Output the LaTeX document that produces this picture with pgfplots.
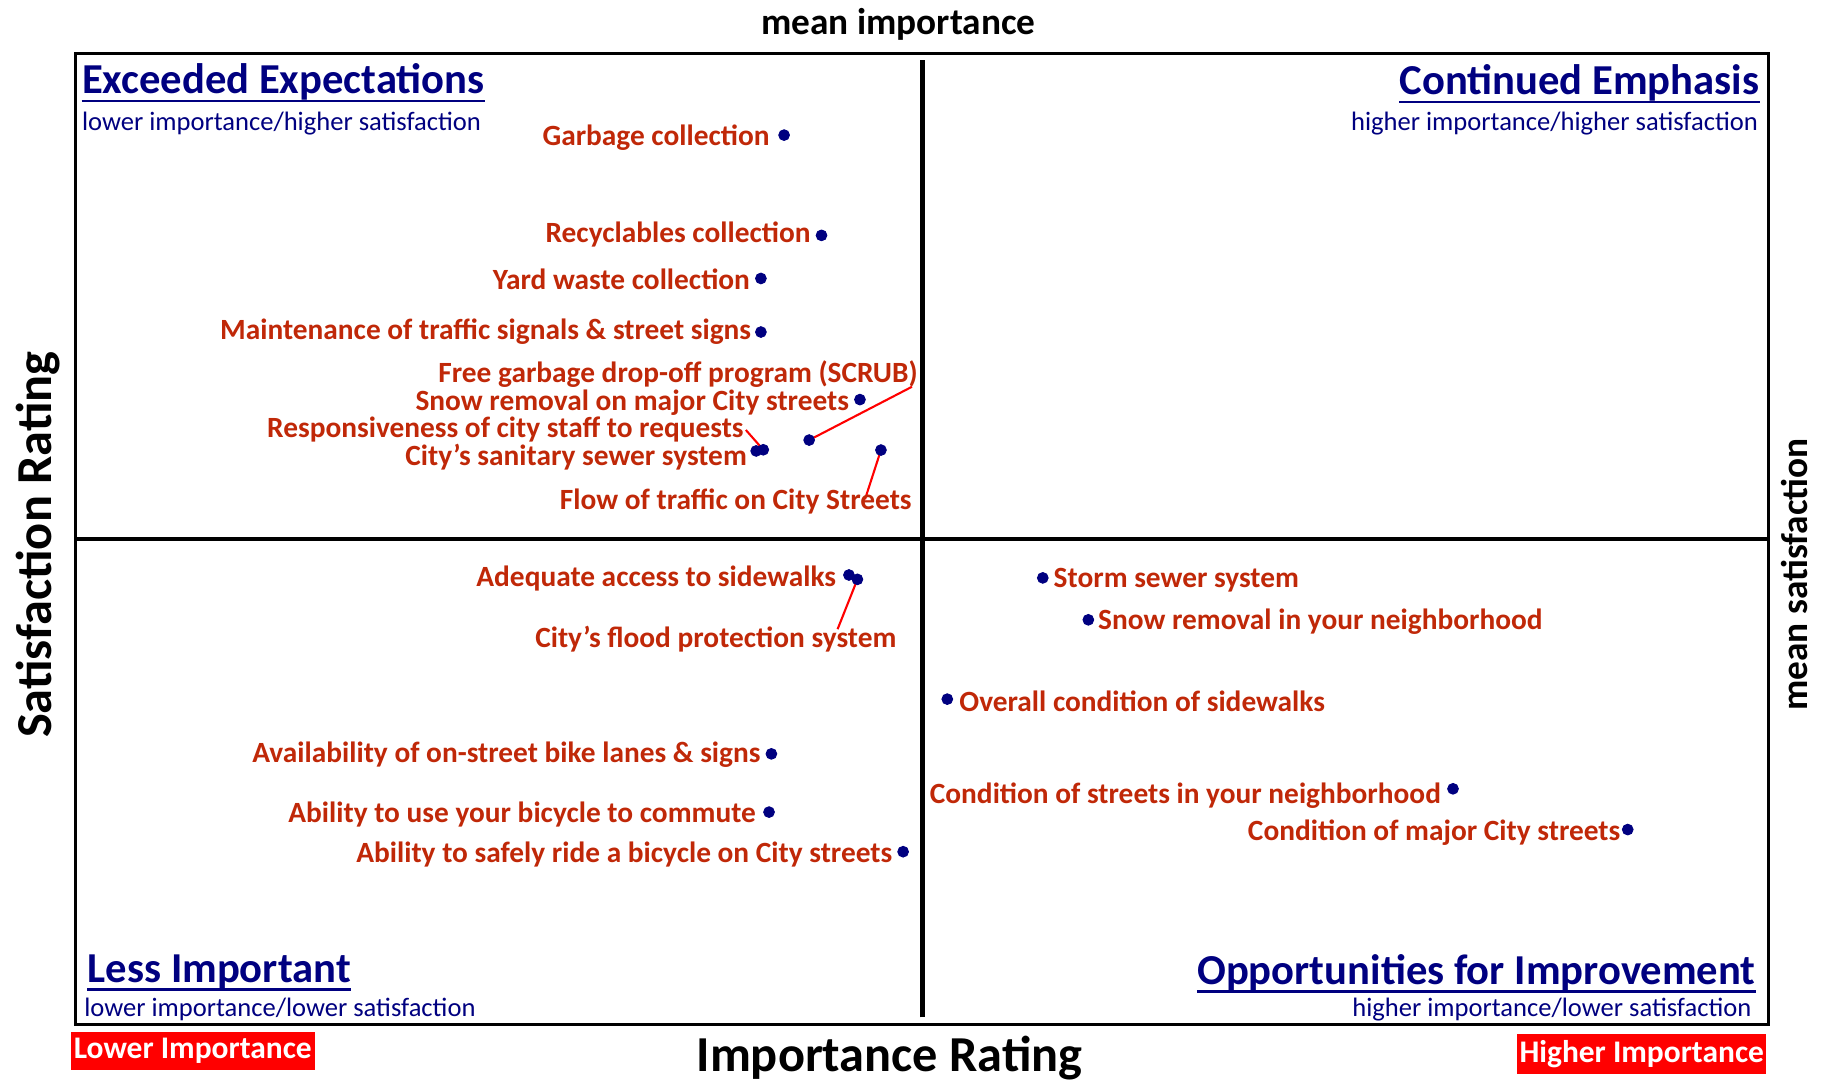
\documentclass[border=0pt]{standalone}
\usepackage{pgfplots}
\pgfplotsset{compat=1.18}
\usepackage{fontspec}
\setmainfont{Carlito}

\definecolor{navyq}{RGB}{0,0,128}
\definecolor{lblred}{RGB}{192,40,8}
\definecolor{boxred}{RGB}{255,0,0}

\begin{document}
\begin{tikzpicture}
\begin{axis}[
    at={(0,0)}, anchor=south west,
    width=726.5pt, height=416.5pt, scale only axis,
    xmin=0, xmax=100, ymin=0, ymax=100,
    xtick=\empty, ytick=\empty,
    axis line style={line width=1.4pt},
    clip=false,
]
% mean importance / mean satisfaction
\addplot[black, line width=2pt] coordinates {(0,50) (100,50)};
\addplot[black, line width=2pt] coordinates {(50,0.7) (50,99.3)};

% leader lines
\draw[red, line width=0.9pt] (axis cs:43.32,60.18) -- (axis cs:49.39,65.67);
\draw[red, line width=0.9pt] (axis cs:40.61,59.18) -- (axis cs:39.58,61.22);
\draw[red, line width=0.9pt] (axis cs:47.56,59.15) -- (axis cs:46.62,54.08);
\draw[red, line width=0.9pt] (axis cs:46.17,45.83) -- (axis cs:45.00,40.70);

\addplot[only marks, mark=*, mark size=2.3pt, color=navyq,
    point meta=explicit symbolic,
    visualization depends on={value \thisrow{dx}\as\dx},
    visualization depends on={value \thisrow{dy}\as\dy},
    visualization depends on={value \thisrow{anc}\as\anc},
    nodes near coords,
    every node near coord/.append style={anchor=\anc, xshift=\dx pt, yshift=\dy pt-1pt,
        inner sep=0pt, text=lblred, font=\bfseries\fontsize{12.6}{15}\selectfont},
] table[col sep=comma, meta=label] {
x,y,dx,dy,anc,label
41.84,91.60,-6,0,east,Garbage collection
44.05,81.27,-4.5,1.5,east,Recyclables collection
40.47,76.83,-4.5,0.5,east,Yard waste collection
40.47,71.31,-4,1,east,Maintenance of traffic signals \& street signs
46.32,64.35,-4.5,-0.5,east,Snow removal on major City streets
43.32,60.18,46.8,29.35,east,Free garbage drop-off program (SCRUB)
40.61,59.18,-8.25,9.9,east,Responsiveness of city staff to requests
40.19,59.06,-3.8,-1.75,east,City's sanitary sewer system
47.56,59.15,13.35,-21.1,east,Flow of traffic on City Streets
45.67,46.28,-5.3,-0.7,east,Adequate access to sidewalks
46.17,45.83,16.9,-24.6,east,City's flood protection system
41.09,27.85,-4.5,0.5,east,Availability of on-street bike lanes \& signs
40.95,21.85,-5.5,0,east,Ability to use your bicycle to commute
48.87,17.77,-4.5,0,east,Ability to safely ride a bicycle on City streets
57.12,45.98,4.5,0,west,Storm sewer system
59.81,41.66,4,0,west,Snow removal in your neighborhood
51.48,33.49,5,0,west,Overall condition of sidewalks
81.35,24.25,-5,-2,east,Condition of streets in your neighborhood
91.67,20.05,-3,-0.5,east,Condition of major City streets
};
\end{axis}

% quadrant titles
\tikzset{qt/.style={inner sep=0pt, text=navyq, font=\bfseries\fontsize{18.3}{22}\selectfont},
         qs/.style={inner sep=0pt, text=navyq, font=\fontsize{11.4}{14}\selectfont}}
\node[qt, anchor=base west] (q1) at (2.5pt,399.2pt) {Exceeded Expectations};
\node[qs, anchor=base west] at (2.5pt,383.6pt) {lower importance/higher satisfaction};
\node[qt, anchor=base east] (q2) at (722.6pt,398.8pt) {Continued Emphasis};
\node[qs, anchor=base east] at (722pt,383.3pt) {higher importance/higher satisfaction};
\node[qt, anchor=base west] (q3) at (5pt,18pt) {Less Important};
\node[qs, anchor=base west] at (3.5pt,3.1pt) {lower importance/lower satisfaction};
\node[qt, anchor=base east] (q4) at (721.1pt,17.2pt) {Opportunities for Improvement};
\node[qs, anchor=base east] at (719.2pt,3.5pt) {higher importance/lower satisfaction};
\foreach \q in {q1,q2,q3,q4}
  \draw[navyq, line width=1.1pt] ([yshift=-3.1pt]\q.base west) -- ([yshift=-3.1pt]\q.base east);

% axis titles
\node[font=\bfseries\fontsize{16}{19}\selectfont, anchor=base] at (353pt,424.6pt) {mean importance};
\node[font=\bfseries\fontsize{21.6}{26}\selectfont, anchor=base] at (349.25pt,-20.2pt) {Importance Rating};
\node[font=\bfseries\fontsize{21.6}{26}\selectfont, anchor=base, rotate=90] at (-10.5pt,205.75pt) {Satisfaction Rating};
\node[font=\bfseries\fontsize{16}{19}\selectfont, anchor=base, rotate=90] at (743.2pt,193pt) {mean satisfaction};

% importance end markers
\node[fill=boxred, text=white, font=\bfseries\fontsize{13.5}{16}\selectfont,
      minimum width=104.5pt, minimum height=16.5pt, inner sep=0pt] at (50.25pt,-11.5pt) {Lower Importance};
\node[fill=boxred, text=white, font=\bfseries\fontsize{13.5}{16}\selectfont,
      minimum width=107pt, minimum height=17pt, inner sep=0pt] at (672pt,-12.8pt) {Higher Importance};

\pgfresetboundingbox
\useasboundingbox (-32.5pt,-25pt) rectangle (751.5pt,439.5pt);
\end{tikzpicture}
\end{document}
